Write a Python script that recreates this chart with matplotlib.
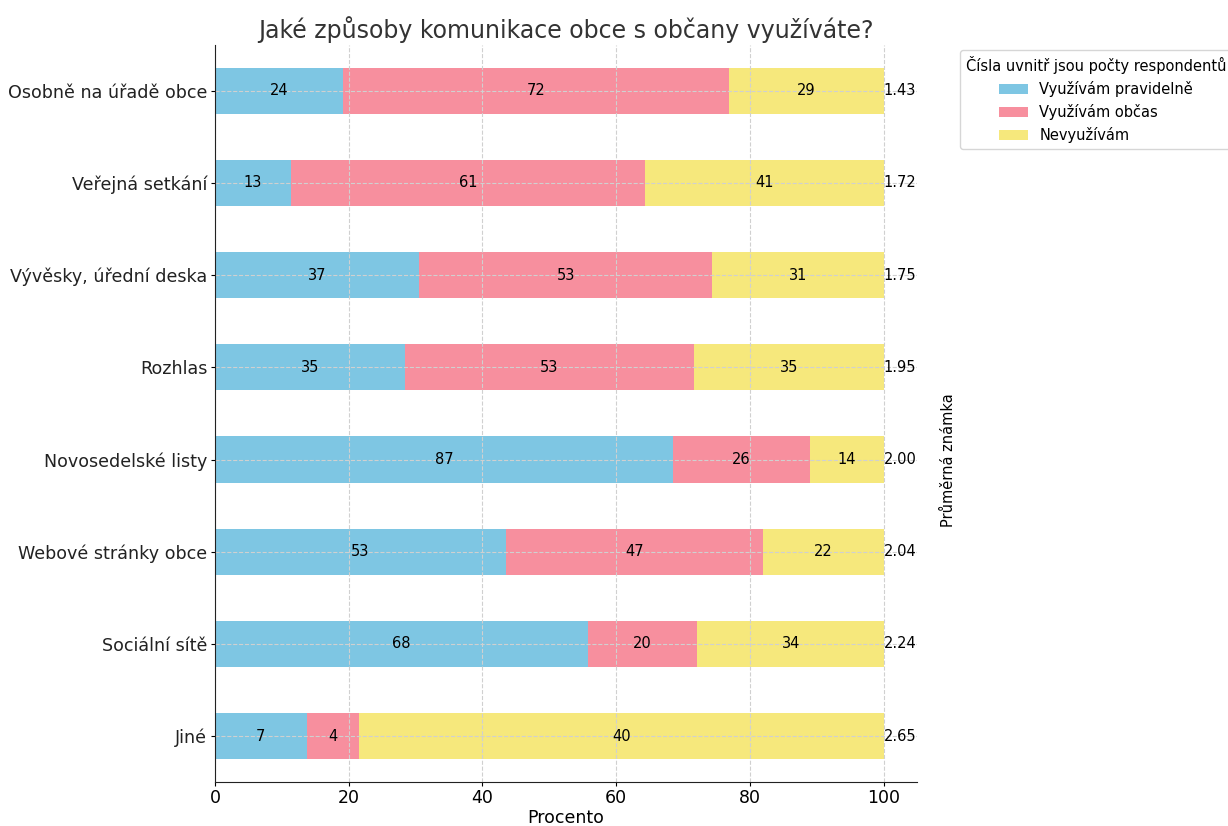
import matplotlib.pyplot as plt
import numpy as np

categories = ['Osobně na úřadě obce', 'Veřejná setkání', 'Vývěsky, úřední deska',
              'Rozhlas', 'Novosedelské listy', 'Webové stránky obce',
              'Sociální sítě', 'Jiné']
pravidelne = [24, 13, 37, 35, 87, 53, 68, 7]
obcas = [72, 61, 53, 53, 26, 47, 20, 4]
nevyuzivam = [29, 41, 31, 35, 14, 22, 34, 40]
prumer = [1.43, 1.72, 1.75, 1.95, 2.00, 2.04, 2.24, 2.65]

series_names = ['Využívám pravidelně', 'Využívám občas', 'Nevyužívám']
colors = ['#7ec6e3', '#f78f9e', '#f6e87c']


def main():
    counts = np.array([pravidelne, obcas, nevyuzivam], dtype=float)
    pct = counts / counts.sum(axis=0) * 100

    fig = plt.figure(figsize=(12.28, 8.26), dpi=100)
    ax = fig.add_axes([0.175, 0.053, 0.572, 0.893])
    y = np.arange(len(categories))

    left = np.zeros(len(categories))
    for i in range(3):
        bars = ax.barh(y, pct[i], left=left, height=0.5, color=colors[i],
                       label=series_names[i])
        for j, b in enumerate(bars):
            ax.text(left[j] + pct[i][j] / 2, y[j], '%d' % counts[i][j],
                    ha='center', va='center', fontsize=10.5, color='black')
        left += pct[i]

    for j in range(len(categories)):
        ax.text(100.0, y[j], '%.2f' % prumer[j], ha='left', va='center',
                fontsize=10.5)

    ax.set_yticks(y)
    ax.set_yticklabels(categories, fontsize=12.6, color='#222222')
    ax.set_ylim(7.5, -0.5)
    ax.set_xlim(0, 105)
    ax.set_xticks([0, 20, 40, 60, 80, 100])
    ax.tick_params(axis='x', labelsize=12.5, pad=2, length=3)
    ax.tick_params(axis='y', pad=2.5, length=3)
    ax.set_xlabel('Procento', fontsize=12.5, labelpad=1)
    ax.set_title('Jaké způsoby komunikace obce s občany využíváte?', fontsize=17,
                 color='#333333', pad=5)
    ax.grid(True, linestyle='--', color='#d0d0d0', linewidth=0.8)
    ax.set_axisbelow(False)
    ax.spines['top'].set_visible(False)
    ax.spines['right'].set_visible(False)
    for s in ['left', 'bottom']:
        ax.spines[s].set_zorder(5)
        ax.spines[s].set_color('#222222')

    fig.text(0.772, 0.443, 'Průměrná známka', rotation=90, ha='center',
             va='center', fontsize=10.5)

    leg = ax.legend(loc='upper left', bbox_to_anchor=(1.05, 1.003),
                    title='Čísla uvnitř jsou počty respondentů', fontsize=10.5,
                    title_fontsize=10.5)
    leg.get_frame().set_edgecolor('#cccccc')

    fig.savefig('out.png', dpi=100)


if __name__ == '__main__':
    main()
